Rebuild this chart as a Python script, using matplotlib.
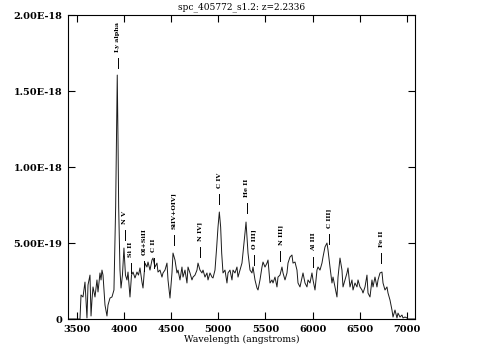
import numpy as np
import matplotlib
matplotlib.use('Agg')
import matplotlib.pyplot as plt

# spectrum (angstroms, flux in 1e-18)
wave = [3400, 3492, 3534, 3545, 3566, 3576, 3587, 3598, 3608, 3619, 3640, 3651, 3661, 3672,
        3693, 3714, 3725, 3746, 3757, 3767, 3778, 3788, 3799, 3820, 3831, 3852, 3873, 3894,
        3912, 3921, 3929, 3937, 3944, 3958, 3969, 3984, 4000, 4016, 4032, 4043, 4064, 4080,
        4096, 4117, 4138, 4154, 4170, 4191, 4202, 4223, 4244, 4255, 4276, 4297, 4308, 4329,
        4350, 4361, 4382, 4403, 4414, 4435, 4456, 4467, 4488, 4509, 4520, 4541, 4562, 4573,
        4594, 4615, 4626, 4647, 4668, 4679, 4700, 4721, 4732, 4753, 4774, 4785, 4806, 4827,
        4838, 4859, 4880, 4891, 4912, 4933, 4944, 4965, 4983, 4997, 5011, 5025, 5036, 5050,
        5071, 5092, 5103, 5124, 5145, 5156, 5177, 5198, 5209, 5230, 5251, 5262, 5283, 5294,
        5304, 5315, 5336, 5357, 5368, 5389, 5410, 5421, 5442, 5463, 5474, 5495, 5516, 5527,
        5548, 5569, 5580, 5601, 5622, 5633, 5654, 5675, 5686, 5707, 5728, 5739, 5760, 5781,
        5792, 5813, 5834, 5845, 5866, 5887, 5898, 5919, 5940, 5951, 5972, 5993, 6004, 6025,
        6046, 6057, 6078, 6099, 6110, 6131, 6152, 6163, 6184, 6205, 6216, 6237, 6258, 6269,
        6290, 6311, 6322, 6343, 6364, 6375, 6396, 6417, 6428, 6449, 6470, 6481, 6502, 6523,
        6534, 6555, 6576, 6587, 6608, 6629, 6640, 6661, 6682, 6693, 6714, 6735, 6746, 6767,
        6788, 6799, 6820, 6841, 6852, 6873, 6894, 6905, 6926, 6947, 6958, 6979, 7000, 7011,
        7100]
flux = [0, 0, 0, 0.158, 0.145, 0.191, 0.243, 0.125, 0.007, 0.224, 0.289, 0.020, 0.125, 0.211,
        0.145, 0.257, 0.178, 0.303, 0.257, 0.322, 0.289, 0.191, 0.092, 0.020, 0.092, 0.138, 0.145, 0.191,
        0.737, 1.178, 1.605, 1.178, 0.737, 0.322, 0.204, 0.289, 0.467, 0.289, 0.257, 0.309, 0.145, 0.289,
        0.309, 0.270, 0.309, 0.289, 0.336, 0.243, 0.204, 0.368, 0.342, 0.375, 0.322, 0.388, 0.401, 0.342,
        0.368, 0.309, 0.322, 0.276, 0.303, 0.322, 0.368, 0.257, 0.138, 0.303, 0.434, 0.388, 0.303, 0.322,
        0.257, 0.342, 0.276, 0.322, 0.237, 0.342, 0.303, 0.257, 0.276, 0.289, 0.322, 0.368, 0.322, 0.303,
        0.322, 0.276, 0.303, 0.257, 0.303, 0.276, 0.270, 0.322, 0.474, 0.605, 0.704, 0.605, 0.434, 0.303,
        0.322, 0.237, 0.303, 0.322, 0.257, 0.322, 0.303, 0.342, 0.276, 0.322, 0.368, 0.434, 0.566, 0.638,
        0.539, 0.434, 0.322, 0.303, 0.342, 0.257, 0.204, 0.191, 0.257, 0.342, 0.375, 0.342, 0.368, 0.388,
        0.237, 0.257, 0.237, 0.276, 0.211, 0.276, 0.289, 0.342, 0.303, 0.257, 0.303, 0.368, 0.408, 0.421,
        0.368, 0.375, 0.322, 0.237, 0.211, 0.270, 0.303, 0.237, 0.211, 0.257, 0.237, 0.303, 0.257, 0.191,
        0.322, 0.342, 0.322, 0.368, 0.408, 0.474, 0.500, 0.454, 0.342, 0.237, 0.276, 0.211, 0.145, 0.276,
        0.401, 0.322, 0.211, 0.257, 0.303, 0.336, 0.211, 0.257, 0.191, 0.237, 0.211, 0.257, 0.211, 0.191,
        0.171, 0.211, 0.289, 0.171, 0.145, 0.257, 0.211, 0.276, 0.211, 0.257, 0.303, 0.309, 0.237, 0.191,
        0.211, 0.171, 0.125, 0.059, 0.013, 0.059, 0.007, 0.039, 0.013, 0.026, 0.007, 0.013, 0.007, 0,
        0]

z = 2.2336
line_names = ['Ly alpha', 'N V', 'Si II', 'OI+SiII', 'C II', 'SiIV+OIV]', 'N IV]', 'C IV',
              'He II', 'O III]', 'N III]', 'Al III', 'C III]', 'Fe II']
line_rest = [1216, 1240, 1260, 1303, 1335, 1400, 1486, 1549, 1640, 1663, 1750, 1857, 1909, 2080]
# flux at the bottom of each marker (1e-18)
line_level = [1.651, 0.520, 0.303, 0.316, 0.336, 0.487, 0.408, 0.757, 0.697, 0.355, 0.382,
              0.342, 0.493, 0.368]

yticks = [0, 5e-19, 1e-18, 1.5e-18, 2e-18]
ytick_labels = ['0', '5.00E-19', '1.00E-18', '1.50E-18', '2.00E-18']
xticks = [3500, 4000, 4500, 5000, 5500, 6000, 6500, 7000]

plt.rc('font', family='DejaVu Serif', weight='bold', size=7)

fig = plt.figure(figsize=(4.83, 3.58), dpi=100)
ax = fig.add_axes([0.1408, 0.1089, 0.7184, 0.8491])

ax.plot(wave, np.array(flux) * 1e-18, color='#1a1a1a', lw=0.7)

for name, rest, lev in zip(line_names, line_rest, line_level):
    lo = lev * 1e-18
    xo = rest * (1 + z)
    ax.plot([xo, xo], [lo, lo + 0.066e-18], color='k', lw=0.7)
    ax.text(xo, lo + 0.105e-18, name, rotation=90, ha='center', va='bottom',
            fontsize=4.6, fontweight='bold')

ax.set_xlim(3407, 7085)
ax.set_ylim(0, 2e-18)
ax.set_xticks(xticks)
ax.set_xticklabels([str(t) for t in xticks])
ax.set_yticks(yticks)
ax.set_yticklabels(ytick_labels)
ax.tick_params(direction='in', length=5, width=0.8, top=True, right=True, pad=4)
for s in ax.spines.values():
    s.set_linewidth(0.8)

ax.set_xlabel('Wavelength (angstroms)', labelpad=1, fontsize=6.7)
ax.set_title('spc_405772_s1.2: z=2.2336', pad=4, fontsize=6.5)

fig.savefig('out.png', dpi=100)
